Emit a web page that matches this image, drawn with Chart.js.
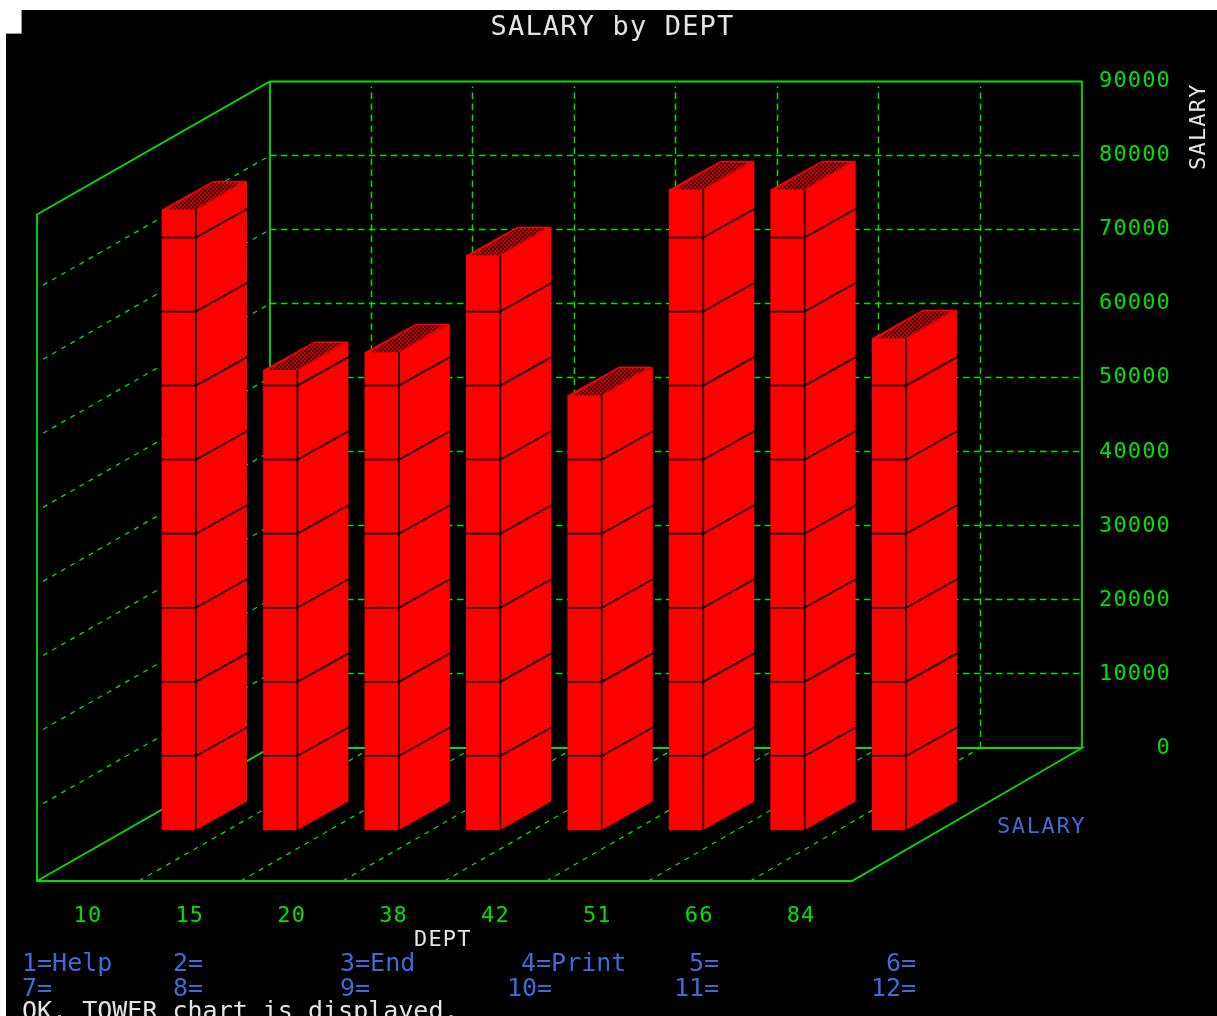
<!DOCTYPE html>
<html>
<head>
<meta charset="utf-8">
<style>html,body{margin:0;padding:0;background:#fff;overflow:hidden}canvas{display:block}</style>
<script src="https://cdn.jsdelivr.net/npm/chart.js@4"></script>
</head>
<body>
<canvas id="c" width="1217" height="1016"></canvas>
<script>
const departments = ['10','15','20','38','42','51','66','84'];
const salaries = [83800,62100,64500,77600,58700,86500,86500,66400];
const salaryTicks = [0,10000,20000,30000,40000,50000,60000,70000,80000,90000];
const functionKeysTop = [['1=Help',22],['2=',173],['3=End',340],['4=Print',521],['5=',689],['6=',886]];
const functionKeysBottom = [['7=',22],['8=',173],['9=',340],['10=',507],['11=',674],['12=',871]];
const statusLine = 'OK. TOWER chart is displayed.';

const MONO = '"DejaVu Sans Mono", monospace';
const GREEN = '#00e000', RED = '#ff0000', BLUE = '#3a6cd8', WHITE = '#e4e4e4';
const PX = 74.06 / 10000;          // pixels per salary unit
const DEPTH_X = 233, DEPTH_Y = 133; // floor depth of the box
const BAR_DX = 51, BAR_DY = 28.5;   // depth of one tower

function hatch(ctx){
  const p = document.createElement('canvas'); p.width = 4; p.height = 4;
  const g = p.getContext('2d');
  g.fillStyle = '#3a0000'; g.fillRect(0,0,4,4);
  g.fillStyle = '#c80000'; g.fillRect(0,0,2,2); g.fillRect(2,2,2,2);
  return ctx.createPattern(p,'repeat');
}
function snap(y){ return Math.round(y-0.5)+0.5; }
function line(ctx,x1,y1,x2,y2){ ctx.beginPath(); ctx.moveTo(x1,y1); ctx.lineTo(x2,y2); ctx.stroke(); }
function text(ctx,s,x,y,color,size,spacing,align){
  ctx.save();
  ctx.font = size+'px '+MONO; ctx.fillStyle = color; ctx.letterSpacing = (spacing||0)+'px';
  ctx.textAlign = align||'left'; ctx.textBaseline = 'alphabetic';
  ctx.fillText(s,x,y); ctx.restore();
}

const towerPlugin = {
  id:'tower',
  afterLayout(chart){
    const t = chart.titleBlock;
    if(t){ t.left = 0; t.right = 1225; }
  },
  beforeDraw(chart){
    const c = chart.ctx;
    c.save();
    c.fillStyle = '#fff'; c.fillRect(0,0,1217,1016);
    c.fillStyle = '#000'; c.fillRect(6,10,1211,1006);
    c.fillStyle = '#fff'; c.fillRect(6,10,15,23);
    c.strokeStyle = '#999'; c.lineWidth = 1;
    c.beginPath(); c.moveTo(21.5,10); c.lineTo(21.5,33.5); c.lineTo(6,33.5); c.stroke();
    c.restore();
    c.letterSpacing = '1.16px';
  },
  beforeDatasetsDraw(chart){
    const c = chart.ctx, s = chart.scales;
    const a = chart.chartArea;
    const yZero = s.yBack.getPixelForValue(0), yTop = s.yBack.getPixelForValue(90000);
    const xL = a.left, xB = xL + DEPTH_X, xR = a.right;
    const xFrontEnd = s.x.getPixelForValue(departments.length);
    c.save();
    c.strokeStyle = GREEN; c.lineWidth = 1.5;
    // dashed grid
    c.setLineDash([6.5,4.5]);
    salaryTicks.slice(1,-1).forEach(v=>{
      const y = snap(s.yBack.getPixelForValue(v));
      line(c,xB,y,xR,y);
    });
    departments.forEach((d,i)=>{
      if(i===0) return;
      const xb = snap(s.xBar.getPixelForValue(i)+91);
      line(c,xb,yZero,xb,yTop+5);
    });
    c.lineWidth = 1.3;
    c.setLineDash([5,5.5]);
    salaryTicks.slice(1,-1).forEach(v=>{
      const y = s.yBack.getPixelForValue(v);
      line(c,xL+6,y+DEPTH_Y-3.4,xB,y);
    });
    departments.forEach((d,i)=>{
      if(i===0) return;
      const xf = s.x.getPixelForValue(i);
      const xb = s.xBar.getPixelForValue(i)+91;
      line(c,xf,a.bottom,xb,yZero);
    });
    // solid frame
    c.setLineDash([]); c.lineWidth = 1.8;
    c.beginPath();
    c.moveTo(xL,a.bottom); c.lineTo(xFrontEnd,a.bottom); c.lineTo(xR,yZero); c.lineTo(xB,yZero); c.lineTo(xL,a.bottom);
    c.lineTo(xL,yTop+DEPTH_Y); c.lineTo(xB,yTop); c.lineTo(xR,yTop); c.lineTo(xR,yZero);
    c.moveTo(xB,yTop); c.lineTo(xB,yZero);
    c.stroke();
    c.restore();
  },
  afterDatasetsDraw(chart){
    const c = chart.ctx, s = chart.scales;
    const meta = chart.getDatasetMeta(0);
    const pat = hatch(c);
    c.save();
    meta.data.forEach((bar,i)=>{
      const p = bar.getProps(['x','y','base','width'],true);
      const l = p.x-p.width/2, r = p.x+p.width/2, t = p.y, b = p.base;
      // side face
      c.fillStyle = RED;
      c.beginPath(); c.moveTo(r,t); c.lineTo(r+BAR_DX,t-BAR_DY); c.lineTo(r+BAR_DX,b-BAR_DY); c.lineTo(r,b); c.closePath(); c.fill();
      // top face
      c.fillStyle = RED;
      c.beginPath(); c.moveTo(l,t); c.lineTo(r,t); c.lineTo(r+BAR_DX,t-BAR_DY); c.lineTo(l+BAR_DX,t-BAR_DY); c.closePath(); c.fill();
      c.fillStyle = pat;
      c.beginPath(); c.moveTo(l+5,t); c.lineTo(r-1,t); c.lineTo(r+BAR_DX-6,t-BAR_DY+1.5); c.lineTo(l+BAR_DX,t-BAR_DY+1.5); c.closePath(); c.fill();
      // band lines
      c.strokeStyle = '#1a0000'; c.lineWidth = 1.8;
      salaryTicks.slice(1).forEach(v=>{
        if(v>=salaries[i]) return;
        const y = s.yBar.getPixelForValue(v);
        line(c,l,y,r,y);
        line(c,r,y,r+BAR_DX,y-BAR_DY);
      });
      line(c,r,t,r,b);
    });
    c.restore();
  },
  afterDraw(chart){
    const c = chart.ctx;
    text(c,'DEPT',414,946,WHITE,22,1.16);
    text(c,'SALARY',997,833,BLUE,22,1.6);
    c.save();
    c.translate(1205,170); c.rotate(-Math.PI/2);
    text(c,'SALARY',0,0,WHITE,22,1.2);
    c.restore();
    functionKeysTop.forEach(k=>text(c,k[0],k[1],971,BLUE,25));
    functionKeysBottom.forEach(k=>text(c,k[0],k[1],996,BLUE,25));
    text(c,statusLine,22,1019,WHITE,25);
  }
};

new Chart(document.getElementById('c'),{
  type:'bar',
  data:{
    datasets:[{
      label:'SALARY',
      data:salaries.map((v,i)=>({x:i,y:v})),
      xAxisID:'xBar', yAxisID:'yBar',
      backgroundColor:RED, borderWidth:0,
      barThickness:34
    }]
  },
  plugins:[towerPlugin],
  options:{
    responsive:false, animation:false, devicePixelRatio:1,
    layout:{autoPadding:false,padding:{left:37,right:46,top:0,bottom:0}},
    plugins:{
      legend:{display:false}, tooltip:{enabled:false},
      title:{display:true,text:'SALARY by DEPT',color:WHITE,
        font:{family:MONO,size:27,weight:'normal'},padding:{top:12,bottom:37.1}}
    },
    scales:{
      x:{type:'linear',position:'bottom',offset:false,min:0,max:1045/101.875,
        grid:{display:false},border:{display:false},
        afterBuildTicks(a){a.ticks=departments.map((d,i)=>({value:i+0.5}));},
        afterFit(a){a.height=135;},
        ticks:{color:GREEN,font:{family:MONO,size:22},padding:14,maxRotation:0,autoSkip:false,
          callback:(v,i)=>departments[i]}
      },
      xBar:{type:'linear',display:false,offset:false,min:(37-179)/101.45,max:(1082-179)/101.45},
      yBack:{type:'linear',position:'right',min:-133/PX,max:90000,
        grid:{display:false},border:{display:false},
        afterBuildTicks(a){a.ticks=salaryTicks.map(v=>({value:v}));},
        afterFit(a){a.width=89;},
        ticks:{color:GREEN,font:{family:MONO,size:22},crossAlign:'far',padding:0,autoSkip:false,
          callback:v=>String(v)}
      },
      yBar:{type:'linear',display:false,min:-51/PX,max:(830-81.5)/PX}
    }
  }
});
</script>
</body>
</html>
